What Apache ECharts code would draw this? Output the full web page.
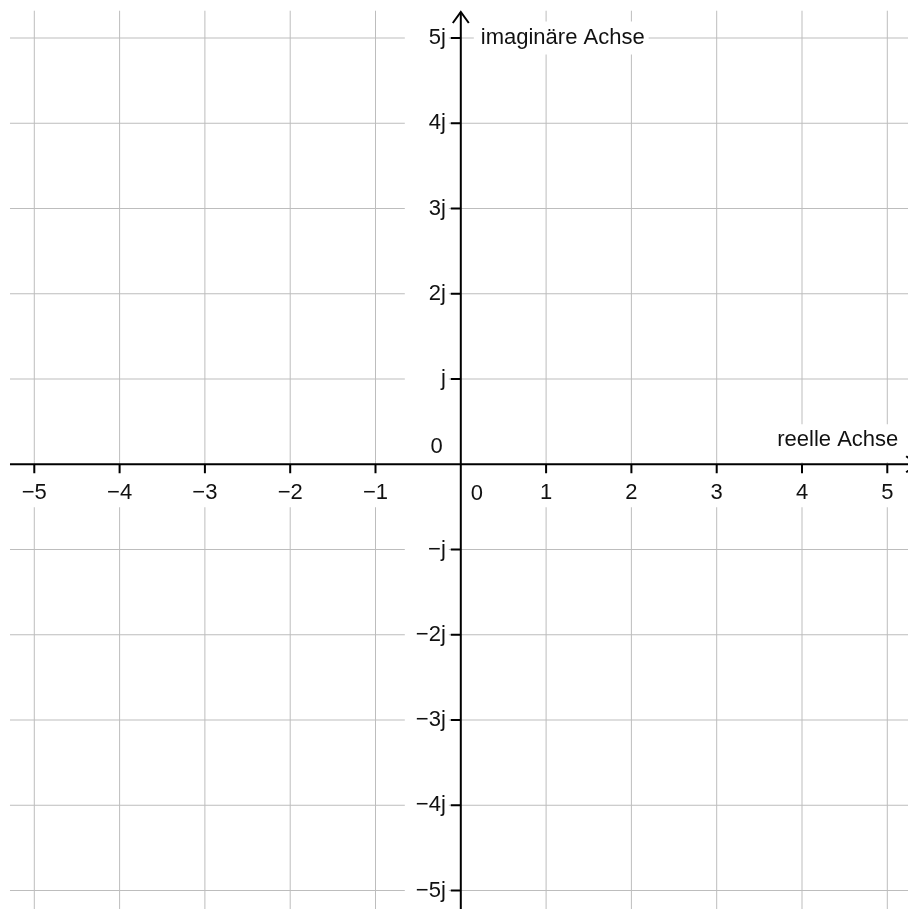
<!DOCTYPE html>
<html><head><meta charset="utf-8">
<style>html,body{margin:0;padding:0;background:#fff}#c{width:908px;height:909px}</style>
<script src="https://cdn.jsdelivr.net/npm/echarts@6/dist/echarts.min.js"></script>
</head><body><div id="c"></div>
<script>
// ---- data ----
const xTicks = [-5, -4, -3, -2, -1, 1, 2, 3, 4, 5];
const xTickLabels = ['−5', '−4', '−3', '−2', '−1', '1', '2', '3', '4', '5'];
const yTicks = [-5, -4, -3, -2, -1, 1, 2, 3, 4, 5];
const yTickLabels = ['−5j', '−4j', '−3j', '−2j', '−j', 'j', '2j', '3j', '4j', '5j'];
const originLabel = '0';
const realAxisName = 'reelle Achse';
const imagAxisName = 'imaginäre Achse';
// extent of the drawn plane (data units)
const planeX = [-5.285, 5.6];
const planeY = [-5.6, 5.32];
const axisEndX = 5.35;
const axisEndY = 5.305;

// ---- styles ----
const FONT = 'Liberation Sans';
const TXT = '#111';
const GRID = '#bdbdbd';

const chart = echarts.init(document.getElementById('c'), null, {renderer: 'canvas'});

function gridV(params, api) {
  const x = api.value(0);
  const a = api.coord([x, planeY[1]]), b = api.coord([x, planeY[0]]);
  return {type: 'line', shape: {x1: a[0], y1: a[1], x2: b[0], y2: b[1]}, style: {stroke: GRID, lineWidth: 1}};
}
function gridH(params, api) {
  const y = api.value(1);
  const a = api.coord([planeX[0], y]), b = api.coord([planeX[1], y]);
  return {type: 'line', shape: {x1: a[0], y1: a[1], x2: b[0], y2: b[1]}, style: {stroke: GRID, lineWidth: 1}};
}
function tickX(params, api) {
  const p = api.coord([api.value(0), 0]);
  return {type: 'line', shape: {x1: p[0], y1: p[1], x2: p[0], y2: p[1] + 9}, style: {stroke: '#000', lineWidth: 2}};
}
function tickY(params, api) {
  const p = api.coord([0, api.value(1)]);
  return {type: 'line', shape: {x1: p[0] - 10, y1: p[1], x2: p[0], y2: p[1]}, style: {stroke: '#000', lineWidth: 2}};
}
function axes(params, api) {
  const l = api.coord([planeX[0], 0]), r = api.coord([axisEndX, 0]);
  const t = api.coord([0, axisEndY]), b = api.coord([0, planeY[0]]);
  const s = {stroke: '#000', lineWidth: 2, fill: null};
  return {type: 'group', children: [
    {type: 'line', shape: {x1: l[0], y1: l[1], x2: r[0], y2: r[1]}, style: s},
    {type: 'line', shape: {x1: t[0], y1: t[1], x2: b[0], y2: b[1]}, style: s},
    {type: 'polyline', shape: {points: [[t[0] - 8, t[1] + 11], [t[0], t[1]], [t[0] + 8, t[1] + 11]]}, style: s},
    {type: 'polyline', shape: {points: [[r[0] - 11, r[1] - 8], [r[0], r[1]], [r[0] - 11, r[1] + 8]]}, style: s}
  ]};
}

const baseLabel = {show: true, fontFamily: FONT, fontSize: 22, color: TXT, lineHeight: 24, opacity: 1};

const option = {
  animation: false,
  backgroundColor: '#fff',
  grid: {left: 34.3, right: 20.7, top: 38, bottom: 18.5, containLabel: false},
  xAxis: {type: 'value', min: -5, max: 5, interval: 1, show: false},
  yAxis: {type: 'value', min: -5, max: 5, interval: 1, show: false},
  series: [
    {type: 'custom', z: 1, silent: true, clip: false, renderItem: gridV, data: xTicks.map(v => [v, 0])},
    {type: 'custom', z: 1, silent: true, clip: false, renderItem: gridH, data: yTicks.map(v => [0, v])},
    {type: 'scatter', z: 2, silent: true, symbolSize: 0,
      label: Object.assign({}, baseLabel, {position: 'bottom', distance: 8, padding: [9, 4, 2, 4], backgroundColor: '#fff'}),
      data: xTicks.map((v, i) => ({value: [v, 0], label: {formatter: xTickLabels[i]}}))},
    {type: 'scatter', z: 2, silent: true, symbolSize: 0,
      label: Object.assign({}, baseLabel, {position: 'left', distance: 12, align: 'right', width: 34, padding: [4, 3, 4, 7], backgroundColor: '#fff'}),
      data: yTicks.map((v, i) => ({value: [0, v], label: {formatter: yTickLabels[i]}}))},
    {type: 'scatter', z: 2, silent: true, symbolSize: 0,
      data: [
        {value: [0, 0], label: Object.assign({}, baseLabel, {formatter: originLabel, position: [10, 18], align: 'left', verticalAlign: 'top'})},
        {value: [0, 0], label: Object.assign({}, baseLabel, {formatter: originLabel, position: [-18, -29], align: 'right', verticalAlign: 'top'})},
        {value: [0, 5], label: Object.assign({}, baseLabel, {formatter: imagAxisName, position: 'right', distance: 13, padding: [5, 4, 4, 7], backgroundColor: '#fff'})},
        {value: [5, 0], label: Object.assign({}, baseLabel, {formatter: realAxisName, position: [15, -2], align: 'right', verticalAlign: 'bottom', padding: [4, 4, 10, 4], backgroundColor: '#fff'})}
      ]},
    {type: 'custom', z: 3, silent: true, clip: false, renderItem: tickX, data: xTicks.map(v => [v, 0])},
    {type: 'custom', z: 3, silent: true, clip: false, renderItem: tickY, data: yTicks.map(v => [0, v])},
    {type: 'custom', z: 3, silent: true, clip: false, renderItem: axes, data: [[0, 0]]}
  ]
};
chart.setOption(option);
</script></body></html>
